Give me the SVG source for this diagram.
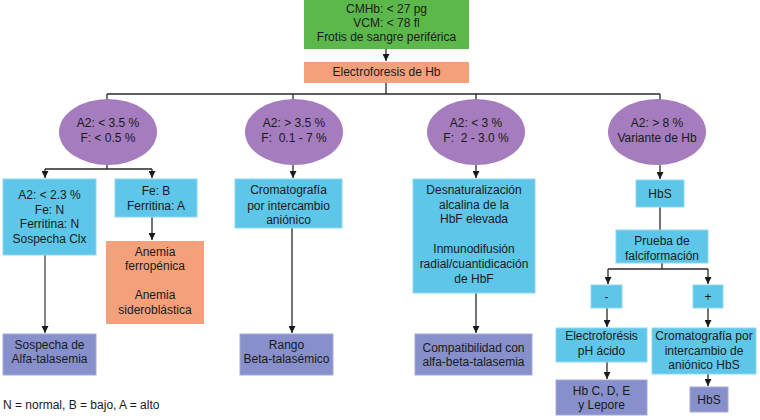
<svg xmlns="http://www.w3.org/2000/svg" width="760" height="420" viewBox="0 0 760 420">
<defs>
<marker id="a" markerWidth="8" markerHeight="7" refX="7" refY="3.5" orient="auto" markerUnits="userSpaceOnUse">
<path d="M0,0 L7,3.5 L0,7 Z" fill="#1a1a1a"/>
</marker>
</defs>
<style>
text{font-family:"Liberation Sans",Arial,sans-serif;font-size:12px;fill:#1a1a1a;text-anchor:middle}
.g{fill:#5cb84b}
.s{fill:#f4a07b}
.p{fill:#a57cbd}
.c{fill:#5ec6e8;stroke:#8fd8f0;stroke-width:1}
.b{fill:#8790cb;stroke:#a3aad8;stroke-width:1}
.l{fill:none;stroke:#2a2a2a;stroke-width:1.3}
.la{fill:none;stroke:#2a2a2a;stroke-width:1.3;marker-end:url(#a)}
.lg{fill:none;stroke:#666;stroke-width:1.6;marker-end:url(#a)}
</style>
<rect width="760" height="420" fill="#fff"/>
<g id="connectors">
<path class="la" d="M386,49 V61"/>
<path class="l" d="M386,83 V94 M107,94 H660 M107,94 V100 M293,94 V100 M476,94 V100 M660,94 V100"/>
<path class="l" d="M107,165 V169 M45,169 H152"/>
<path class="la" d="M45,169 V178"/>
<path class="la" d="M152,169 V178"/>
<path class="la" d="M152,217 V240"/>
<path class="lg" d="M45,255 V333"/>
<path class="la" d="M293,165 V178"/>
<path class="la" d="M292,228 V333"/>
<path class="la" d="M476,165 V178"/>
<path class="la" d="M476,293 V333"/>
<path class="la" d="M660,165 V179"/>
<path class="l" d="M660,207 V230"/>
<path class="l" d="M662,263 V269 M608,269 H708"/>
<path class="la" d="M608,269 V284"/>
<path class="la" d="M708,269 V284"/>
<path class="la" d="M607,308 V327"/>
<path class="la" d="M708,308 V327"/>
<path class="la" d="M607,362 V379"/>
<path class="la" d="M708,374 V386"/>
</g>
<g id="n-top">
<rect class="g" x="304" y="0" width="165" height="49"/>
<text x="386.5" y="13">CMHb: &lt; 27 pg</text>
<text x="386.5" y="27">VCM: &lt; 78 fl</text>
<text x="386.5" y="41">Frotis de sangre periférica</text>
</g>
<g id="n-electro">
<rect class="s" x="304" y="62" width="165" height="21"/>
<text x="386.5" y="76">Electroforesis de Hb</text>
</g>
<g id="n-e1">
<ellipse class="p" cx="108" cy="132" rx="49" ry="33"/>
<text x="108" y="127">A2: &lt; 3.5 %</text>
<text x="108" y="142">F: &lt; 0.5 %</text>
</g>
<g id="n-e2">
<ellipse class="p" cx="294" cy="132" rx="49" ry="33"/>
<text x="294" y="127">A2: &gt; 3.5 %</text>
<text x="294" y="142" xml:space="preserve">F:  0.1 - 7 %</text>
</g>
<g id="n-e3">
<ellipse class="p" cx="476" cy="132" rx="49" ry="33"/>
<text x="476" y="127">A2: &lt; 3 %</text>
<text x="476" y="142" xml:space="preserve">F:  2 - 3.0 %</text>
</g>
<g id="n-e4">
<ellipse class="p" cx="657" cy="132" rx="49" ry="33"/>
<text x="657" y="127">A2: &gt; 8 %</text>
<text x="657" y="142">Variante de Hb</text>
</g>
<g id="n-a2">
<rect class="c" x="3" y="179" width="93" height="76"/>
<text x="49.5" y="199">A2: &lt; 2.3 %</text>
<text x="49.5" y="214">Fe: N</text>
<text x="49.5" y="228">Ferritina: N</text>
<text x="49.5" y="243">Sospecha Clx</text>
</g>
<g id="n-feb">
<rect class="c" x="115" y="179" width="82" height="38"/>
<text x="156" y="195">Fe: B</text>
<text x="156" y="210">Ferritina: A</text>
</g>
<g id="n-anemia">
<rect class="s" x="106" y="241" width="98" height="83"/>
<text x="155" y="256">Anemia</text>
<text x="155" y="270">ferropénica</text>
<text x="155" y="299">Anemia</text>
<text x="155" y="314">sideroblástica</text>
</g>
<g id="n-alfa">
<rect class="b" x="3" y="334" width="93" height="41"/>
<text x="49.5" y="349">Sospecha de</text>
<text x="49.5" y="363">Alfa-talasemia</text>
</g>
<g id="n-crom">
<rect class="c" x="235" y="179" width="107" height="49"/>
<text x="288.5" y="194">Cromatografía</text>
<text x="288.5" y="210">por intercambio</text>
<text x="288.5" y="224">aniónico</text>
</g>
<g id="n-rango">
<rect class="b" x="240" y="334" width="93" height="41"/>
<text x="286.5" y="349">Rango</text>
<text x="286.5" y="363">Beta-talasémico</text>
</g>
<g id="n-desnat">
<rect class="c" x="413" y="179" width="122" height="114"/>
<text x="474" y="194">Desnaturalización</text>
<text x="474" y="209">alcalina de la</text>
<text x="474" y="223">HbF elevada</text>
<text x="474" y="253">Inmunodifusión</text>
<text x="474" y="268">radial/cuantidicación</text>
<text x="474" y="283">de HbF</text>
</g>
<g id="n-compat">
<rect class="b" x="415" y="334" width="117" height="41"/>
<text x="473.5" y="352">Compatibilidad con</text>
<text x="473.5" y="366">alfa-beta-talasemia</text>
</g>
<g id="n-hbs">
<rect class="c" x="636" y="180" width="48" height="27"/>
<text x="660" y="198">HbS</text>
</g>
<g id="n-prueba">
<rect class="c" x="616" y="230" width="92" height="33"/>
<text x="662" y="245">Prueba de</text>
<text x="662" y="260">falciformación</text>
</g>
<g id="n-neg">
<rect class="c" x="591" y="285" width="31" height="23"/>
<text x="606.5" y="301">-</text>
</g>
<g id="n-pos">
<rect class="c" x="693" y="285" width="30" height="23"/>
<text x="708" y="301">+</text>
</g>
<g id="n-eph">
<rect class="c" x="556" y="328" width="91" height="34"/>
<text x="601.5" y="340">Electroforésis</text>
<text x="601.5" y="355">pH ácido</text>
</g>
<g id="n-crom2">
<rect class="c" x="652" y="328" width="104" height="46"/>
<text x="704" y="340">Cromatografía por</text>
<text x="704" y="355">intercambio de</text>
<text x="704" y="369">aniónico HbS</text>
</g>
<g id="n-hbc">
<rect class="b" x="556" y="380" width="91" height="35"/>
<text x="601.5" y="395">Hb C, D, E</text>
<text x="601.5" y="409">y Lepore</text>
</g>
<g id="n-hbs2">
<rect class="b" x="690" y="387" width="38" height="25"/>
<text x="709" y="404">HbS</text>
</g>
<g id="legend">
<text x="3" y="409" style="text-anchor:start">N = normal, B = bajo, A = alto</text>
</g>
</svg>
